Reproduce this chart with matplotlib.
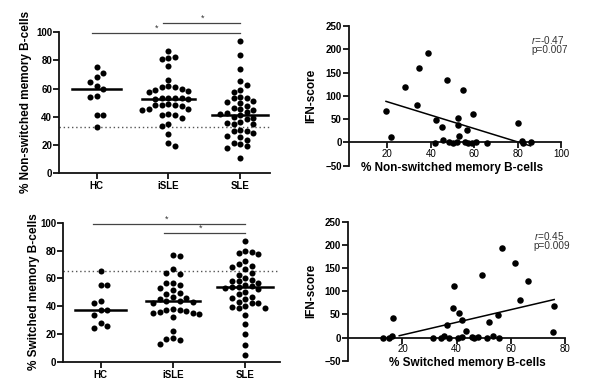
import numpy as np
import matplotlib
matplotlib.use("Agg")
import matplotlib.pyplot as plt

plt.rcParams['font.family'] = ['Liberation Sans', 'DejaVu Sans']

W, H = 605, 385

# ---------------- data ----------------
categories = ["HC", "iSLE", "SLE"]

ns_hc = [75, 71, 68, 64.5, 61.5, 60, 54.5, 54, 41.5, 41, 33]
ns_isle = [86.5, 82.5, 81.5, 81, 76, 66, 61.5, 61, 61, 59.5, 59, 58, 57.5,
           53.5, 53, 53, 53, 52.5, 52.5, 49, 48.5, 48, 48, 47.5, 45.5, 45.5,
           45, 42, 41.5, 41.5, 39, 35, 33.5, 28, 21.5, 19.5]
ns_sle = [93.5, 84, 74, 65.5, 62.5, 58.8, 57.8, 54, 53.5, 53.5, 51, 50.5,
          49.5, 47.5, 46, 45.3, 45, 43, 42.5, 42, 41, 39.5, 39, 38.5, 36,
          35.5, 35, 34.5, 30.5, 30, 29.5, 28.5, 26.5, 25.5, 23.5, 21.5, 20.5,
          19, 17.5, 11]
ns_ref = 32.7

sw_hc = [65.3, 55, 55, 44, 42.6, 37.5, 37.3, 33.7, 27.8, 25.8, 24.2]
sw_isle = [76.5, 76, 66.5, 64, 63, 57, 56.5, 55.5, 53, 52, 49.5, 48.5, 46.5,
           46, 45.5, 44, 43.5, 43, 42.5, 38, 37.5, 37, 36.5, 36, 35.5, 35,
           34.5, 32, 22, 17, 16.5, 15.5, 13]
sw_sle = [87, 80, 79, 78.5, 77.5, 72.5, 70.5, 69, 68.5, 66.5, 64, 62.5, 60,
          59, 58.5, 58, 57, 55, 54.5, 54, 53.5, 53, 52.5, 50, 49, 47, 46,
          45.5, 43, 42.5, 42, 40, 39.5, 39, 38.5, 33.5, 27.5, 20, 12, 5]
sw_ref = 65.2

# scatter: % non-switched vs IFN-score
ns_x = [19.4, 21.5, 28.1, 33.8, 34.7, 38.9, 42, 42.4, 45, 45.5, 47.5, 48.6,
        50.4, 52.2, 52.7, 52.4, 53.2, 55, 55.8, 56.6, 57.3, 58.9, 59.3, 60.7,
        65.8, 80.3, 81.9, 82.4, 86]
ns_ifn = [68, 12, 120, 81, 160, 193, -2, 49, 33, 5, 134, 1.5, -2, 1.5, 52,
          36.5, 13.5, 112, 1.5, 27, -2, -2, 62, 1.5, -2, 42, 3.5, -2, 0.7]
ns_stat = ("-0.47", "0.007")
ns_fit_range = (19.4, 86)

# scatter: % switched vs IFN-score
sw_x = [12.7, 15.1, 16, 16.4, 31.4, 34.4, 35.3, 36.5, 37.3, 38.5, 39, 40.6,
        41, 42.1, 41.8, 43.3, 45.8, 46.4, 48, 49.4, 51.3, 52, 53.3, 55.1,
        55.6, 56.6, 61.7, 63.3, 66.2, 75.9, 75.4]
sw_ifn = [0, -2, 3.5, 42.5, -2, -2, 3.5, 27.5, 0, 63, 112, 0, 52, 37.5, 1.5,
          14.5, 1.5, -2, 1.5, 134, 0, 33, 3.5, 49, -2, 194, 160, 81, 121, 68,
          12]
sw_stat = ("0.45", "0.009")
sw_fit_range = (18.8, 76)

fig = plt.figure(figsize=(W / 100, H / 100), dpi=100)
fig.patch.set_facecolor("white")

plt.rcParams['mathtext.fontset'] = 'custom'
plt.rcParams['mathtext.it'] = 'Liberation Sans:italic'
plt.rcParams['mathtext.rm'] = 'Liberation Sans'


def px_axes(left, top, right, bottom):
    return fig.add_axes([left / W, 1 - bottom / H, (right - left) / W,
                         (bottom - top) / H])


def ftext(x, y, s, **kw):
    fig.text(x / W, 1 - y / H, s, **kw)


def style(ax):
    for s in ("top", "right"):
        ax.spines[s].set_visible(False)
    for s in ("left", "bottom"):
        ax.spines[s].set_linewidth(1.3)
        ax.spines[s].set_color("#111111")
    ax.tick_params(axis="both", direction="out", length=4, width=1.3,
                   color="#111111", labelsize=7, pad=1.0)
    for lab in ax.get_xticklabels() + ax.get_yticklabels():
        lab.set_fontweight("bold")


def swarm(ax, values, center, step_px=6.6, diam_px=5.8):
    p0 = ax.transData.transform((0, 0))
    p1 = ax.transData.transform((1, 1))
    sx, sy = p1[0] - p0[0], p1[1] - p0[1]
    order = np.argsort(-np.asarray(values), kind="stable")
    placed = []
    xs = np.zeros(len(values))
    flip = 1
    for i in order:
        ypx = values[i] * sy
        cands = [0]
        for k in range(1, 10):
            cands += [flip * k, -flip * k]
        for k in cands:
            if all(not (c == k and abs(yy - ypx) < diam_px) for c, yy in placed):
                break
        if k != 0:
            flip = -flip
        placed.append((k, ypx))
        xs[i] = center + k * step_px / sx
    return xs


def dotplot(ax, groups, ref, xlim, ylabel_pos, ylabel, bars, stars, half):
    ax.set_xlim(*xlim)
    ax.set_ylim(0, 100)
    ax.set_yticks(range(0, 101, 20))
    ax.set_xticks(range(len(categories)))
    ax.set_xticklabels(categories, fontsize=8)
    style(ax)
    ax.tick_params(axis="x", pad=1.5)
    ax.spines["left"].set_bounds(0, 100)
    ax.axhline(ref, color="#555555", lw=1.0, ls=(0, (1, 2)), zorder=1)
    for i, g in enumerate(groups):
        xs = swarm(ax, g, i)
        ax.scatter(xs, g, s=19, color="black", zorder=3, clip_on=False,
                   linewidths=0)
        m = np.median(g)
        ax.plot([i - half[i], i + half[i]], [m, m], color="black", lw=1.8,
                zorder=4)
    for (x0, x1, y) in bars:
        ax.plot([x0, x1], [y, y], color="#444444", lw=0.9, clip_on=False)
    for (x, y) in stars:
        ax.text(x, y, "*", fontsize=6.5, ha="center", va="center",
                color="#333333", clip_on=False)
    ftext(ylabel_pos[0], ylabel_pos[1], ylabel, rotation=90, ha="center",
          va="center", fontsize=8.5, fontweight="bold")


def scatterplot(ax, x, y, xlim, xticks, fit_range, stat, stat_pos,
                xlabel, xlabel_pos, ylabel_pos):
    ax.set_xlim(*xlim)
    ax.set_ylim(-50, 250)
    ax.set_yticks(range(-50, 251, 50))
    ax.set_xticks(xticks)
    style(ax)
    ax.tick_params(axis="y", pad=1.5)
    ax.spines["bottom"].set_position(("data", 0))
    ax.spines["left"].set_bounds(-50, 250)
    ax.scatter(x, y, s=22, color="black", zorder=3, clip_on=False,
               linewidths=0)
    k, b = np.polyfit(x, y, 1)
    fx = np.array(fit_range)
    ax.plot(fx, k * fx + b, color="black", lw=1.1, zorder=2)
    ax.text(stat_pos[0], stat_pos[1], "$r$=" + stat[0], transform=ax.transAxes,
            fontsize=7.2, color="#333333", ha="left", va="center")
    ax.text(stat_pos[0], stat_pos[1] - 0.072, "p=" + stat[1],
            transform=ax.transAxes, fontsize=7.2, color="#333333",
            ha="left", va="center")
    ftext(xlabel_pos[0], xlabel_pos[1], xlabel, ha="center", va="center",
          fontsize=8.5, fontweight="bold")
    ftext(ylabel_pos[0], ylabel_pos[1], "IFN-score", rotation=90, ha="center",
          va="center", fontsize=8.5, fontweight="bold")


# top-left
ax1 = px_axes(59, 32.3, 270, 173)
dotplot(ax1, [ns_hc, ns_isle, ns_sle], ns_ref, (-0.526, 2.417), (26, 102),
        "% Non-switched memory B-cells",
        bars=[(-0.06, 2.0, 99.3), (0.93, 2.0, 106.4)],
        stars=[(0.83, 102.6), (1.48, 109.8)],
        half=[0.34, 0.37, 0.39])

# bottom-left
ax2 = px_axes(63.3, 222.7, 280, 362)
dotplot(ax2, [sw_hc, sw_isle, sw_sle], sw_ref, (-0.518, 2.483), (34, 292),
        "% Switched memory B-cells",
        bars=[(-0.11, 2.0, 98.8), (0.88, 2.0, 92.4)],
        stars=[(0.91, 102.6), (1.38, 96.2)],
        half=[0.35, 0.37, 0.39])

# top-right
ax3 = px_axes(349.3, 26, 561, 165.7)
scatterplot(ax3, ns_x, ns_ifn, (2.5, 100), [20, 40, 60, 80, 100],
            ns_fit_range, ns_stat, (0.86, 0.9),
            "% Non-switched memory B-cells", (452, 168), (311.7, 96))

# bottom-right
ax4 = px_axes(348.3, 221.7, 565, 360.7)
scatterplot(ax4, sw_x, sw_ifn, (0, 80), [20, 40, 60, 80],
            sw_fit_range, sw_stat, (0.855, 0.895),
            "% Switched memory B-cells", (467, 363), (311.7, 291))

fig.savefig("out.png", dpi=100, facecolor="white")
